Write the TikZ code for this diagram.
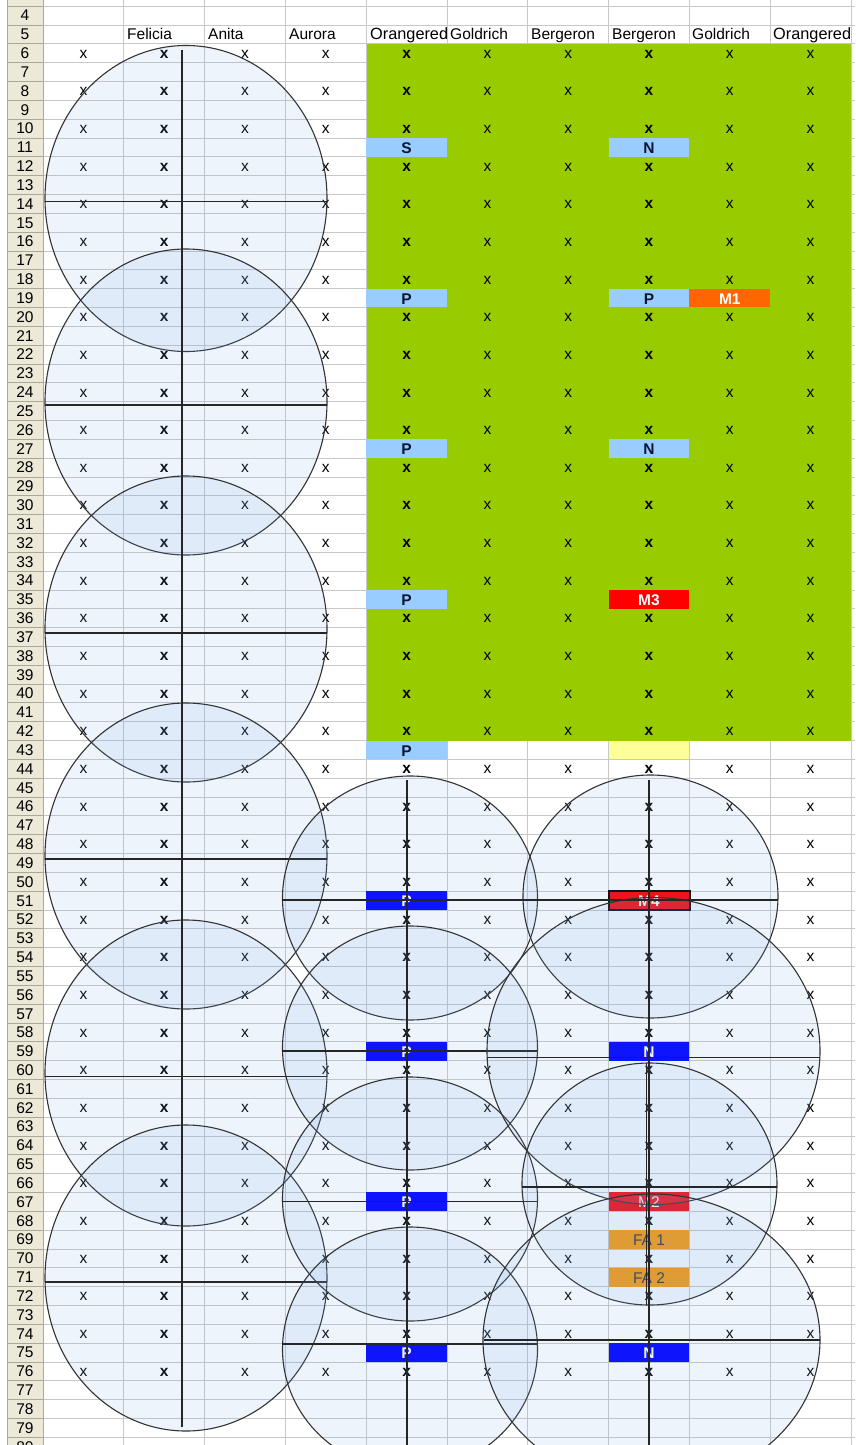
\documentclass[tikz,border=0pt]{standalone}
\usepackage{fontspec}
\setmainfont{Liberation Sans}
\definecolor{gridgray}{HTML}{C8C8C8}
\definecolor{hdrbeige}{HTML}{ECE9D8}
\definecolor{hdrline}{HTML}{ACA899}
\definecolor{xlgreen}{HTML}{99CC00}
\definecolor{xlltblue}{HTML}{99CCFF}
\definecolor{xlorange}{HTML}{FF6600}
\definecolor{xlred}{HTML}{FF0000}
\definecolor{xlyellow}{HTML}{FFFF99}
\definecolor{xlblue}{HTML}{0000FF}
\definecolor{xllorange}{HTML}{FF9900}
\definecolor{bubblefill}{HTML}{78AAEB}
\definecolor{circline}{HTML}{333333}
\definecolor{labeldark}{HTML}{0A1433}
\newcommand{\mycell}[6]{%
  \pgfmathsetmacro{\cellx}{43+80.8*(#1-1)}%
  \pgfmathsetmacro{\celly}{25+(#2-5)*18.83}%
  \fill[#3] (\cellx,\celly) rectangle ++(80.8,18.83);%
  \node[anchor=base, text=#4, font=#5] (cell-#1-#2) at (\cellx+40.4,\celly+15.5) {#6};%
}
\begin{document}
\begin{tikzpicture}[x=1pt,y=-1pt,
  every node/.style={inner sep=0pt},
  txt/.style={font=\fontsize{15.5}{18}\selectfont},
  hdrtxt/.style={font=\fontsize{16.3}{18}\selectfont},
  gridline/.style={draw=gridgray, line width=0.8pt},
  hdrrule/.style={draw=hdrline, line width=0.8pt},
  bubble/.style={draw=circline, line width=1.1pt, fill=bubblefill, fill opacity=0.12},
  diam/.style={draw=black!85, line width=1.2pt}]
\useasboundingbox (0,0) rectangle (855,1445);
\fill[white] (0,0) rectangle (855,1445);
% header column
\fill[hdrbeige] (7,0) rectangle (43,1445);
\draw[hdrrule] (7,0) -- (7,1445);
% grid
\foreach \r in {4,...,80} {
  \pgfmathsetmacro{\ty}{25+(\r-5)*18.83}
  \draw[hdrrule] (7,\ty) -- (43,\ty);
  \draw[gridline] (43,\ty) -- (855,\ty);
}
\foreach \i in {0,...,10} {
  \draw[gridline] ({43+80.8*\i},0) -- ({43+80.8*\i},1445);
}
\draw[hdrrule] (43,0) -- (43,1445);
% row numbers
\foreach \r in {4,...,80} {
  \pgfmathsetmacro{\by}{25+(\r-4)*18.83-4}
  \node[anchor=base, txt] (rn\r) at (25,\by) {\r};
}
% green block
\fill[xlgreen] (367,{25+18.83}) rectangle (851,{25+38*18.83});
% coloured cells
\mycell{5}{11}{xlltblue}{labeldark}{\fontsize{15.5}{18}\selectfont\bfseries}{S}
\mycell{5}{19}{xlltblue}{labeldark}{\fontsize{15.5}{18}\selectfont\bfseries}{P}
\mycell{5}{27}{xlltblue}{labeldark}{\fontsize{15.5}{18}\selectfont\bfseries}{P}
\mycell{5}{35}{xlltblue}{labeldark}{\fontsize{15.5}{18}\selectfont\bfseries}{P}
\mycell{5}{43}{xlltblue}{labeldark}{\fontsize{15.5}{18}\selectfont\bfseries}{P}
\mycell{8}{11}{xlltblue}{labeldark}{\fontsize{15.5}{18}\selectfont\bfseries}{N}
\mycell{8}{19}{xlltblue}{labeldark}{\fontsize{15.5}{18}\selectfont\bfseries}{P}
\mycell{8}{27}{xlltblue}{labeldark}{\fontsize{15.5}{18}\selectfont\bfseries}{N}
\mycell{8}{35}{xlred}{white}{\fontsize{15.5}{18}\selectfont\bfseries}{M3}
\mycell{9}{19}{xlorange}{white}{\fontsize{15.5}{18}\selectfont\bfseries}{M1}
\mycell{8}{43}{xlyellow}{black}{\fontsize{15.5}{18}\selectfont}{}
\mycell{5}{51}{xlblue}{white}{\fontsize{15.5}{18}\selectfont\bfseries}{P}
\mycell{5}{59}{xlblue}{white}{\fontsize{15.5}{18}\selectfont\bfseries}{P}
\mycell{5}{67}{xlblue}{white}{\fontsize{15.5}{18}\selectfont\bfseries}{P}
\mycell{5}{75}{xlblue}{white}{\fontsize{15.5}{18}\selectfont\bfseries}{P}
\mycell{8}{51}{xlred}{white}{\fontsize{15.5}{18}\selectfont\bfseries}{M4}
\draw[black, line width=2pt] (609,{25+46*18.83}) rectangle ++(80.8,18.83);
\mycell{8}{59}{xlblue}{white}{\fontsize{15.5}{18}\selectfont\bfseries}{N}
\mycell{8}{67}{xlred}{white}{\fontsize{15.5}{18}\selectfont}{M2}
\mycell{8}{69}{xllorange}{black!80}{\fontsize{15.5}{18}\selectfont}{FA 1}
\mycell{8}{71}{xllorange}{black!80}{\fontsize{15.5}{18}\selectfont}{FA 2}
\mycell{8}{75}{xlblue}{white}{\fontsize{15.5}{18}\selectfont\bfseries}{N}
% header names (row 5)
\node[anchor=base west, txt] (hF) at (127,40) {Felicia};
\node[anchor=base west, txt] (hA) at (208,40) {Anita};
\node[anchor=base west, txt] (hAu) at (289,40) {Aurora};
\begin{scope}
\clip (367,25) rectangle (447,44);
\node[anchor=base west, hdrtxt] (hO1) at (370,40) {Orangered};
\end{scope}
\node[anchor=base west, txt] (hG1) at (450,40) {Goldrich};
\node[anchor=base west, txt] (hB1) at (531,40) {Bergeron};
\node[anchor=base west, txt] (hB2) at (612,40) {Bergeron};
\node[anchor=base west, txt] (hG2) at (692,40) {Goldrich};
\node[anchor=base west, hdrtxt] (hO2) at (773,40) {Orangered};
% x marks
\foreach \r in {6,8,...,76} {
  \pgfmathsetmacro{\by}{25+(\r-4)*18.83-4.6}
  \foreach \c in {1,3,4,6,7,9,10} {
    \node[anchor=base, txt] (x-\r-\c) at ({83.4+80.8*(\c-1)},\by) {x};
  }
  \foreach \c in {2,5,8} {
    \node[anchor=base, txt, font=\fontsize{15.5}{18}\selectfont\bfseries] (x-\r-\c) at ({83.4+80.8*(\c-1)},\by) {x};
  }
}
% left bubbles
\foreach \cy in {198.5,402,629,856,1073,1278} {
  \path[bubble] (186,\cy) ellipse [x radius=141pt, y radius=153pt];
}
\foreach \ly in {201.7,405,633,859,1076.7,1282} {
  \draw[diam] (45,\ly) -- (327,\ly);
}
\draw[diam] (182,50) -- (182,1427);
% middle bubbles
\foreach \cy in {898,1048,1199,1349} {
  \path[bubble] (410,\cy) ellipse [x radius=127.5pt, y radius=122pt];
}
\foreach \ly in {900,1051,1201.7,1344} {
  \draw[diam] (282,\ly) -- (537,\ly);
}
\draw[diam] (407,780) -- (407,1445);
% right bubbles
\path[bubble] (650.5,896.5) ellipse [x radius=127.5pt, y radius=121.5pt];
\path[bubble] (653.5,1051) ellipse [x radius=166.5pt, y radius=153.5pt];
\path[bubble] (649.5,1184) ellipse [x radius=127.5pt, y radius=121pt];
\path[bubble] (651.5,1340) ellipse [x radius=168.5pt, y radius=146pt];
\draw[diam] (523,900) -- (778,900);
\draw[diam] (487,1057.5) -- (820,1057.5);
\draw[diam] (522,1187) -- (777,1187);
\draw[diam] (484,1340) -- (820,1340);
\draw[diam] (649,780) -- (649,1445);
\draw[diam] (646.5,1063) -- (646.5,1305);
\end{tikzpicture}
\end{document}
